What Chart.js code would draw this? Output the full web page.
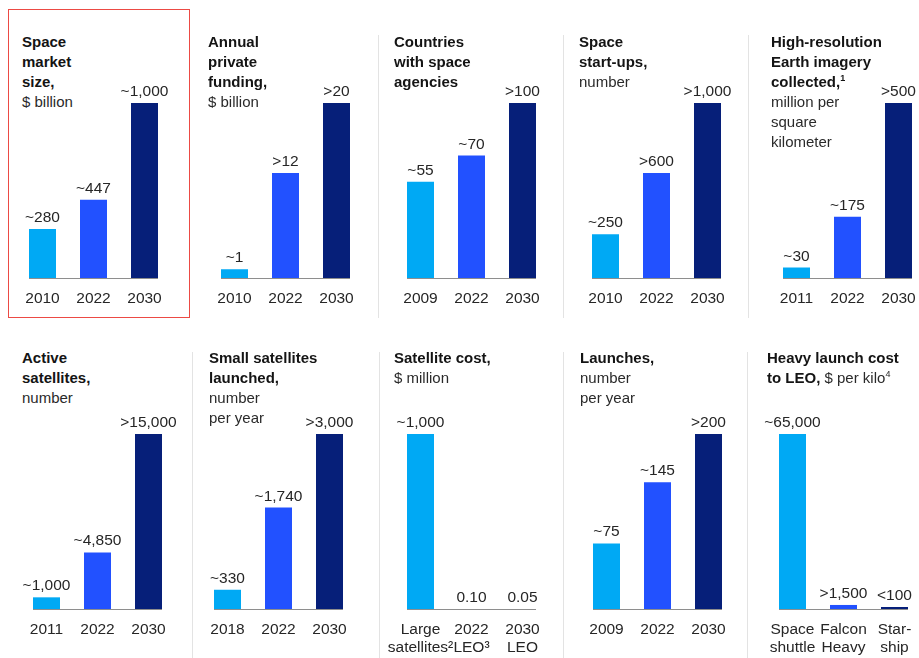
<!DOCTYPE html>
<html lang="en">
<head>
<meta charset="utf-8" />
<title>Space economy at a glance</title>
<script src="https://cdn.jsdelivr.net/npm/chart.js@4.4.1/dist/chart.umd.min.js"></script>
<style>
    html, body { margin: 0; padding: 0; background: #fff; }
    #board { position: relative; width: 919px; height: 658px; overflow: hidden;
        font-family: 'Liberation Sans', Arial, sans-serif; }
    .title { position: absolute; font-size: 15px; line-height: 20px; color: #2a2a2a; white-space: nowrap; }
    .title b { color: #141414; }
    .title sup { font-size: 9px; line-height: 0; vertical-align: 6px; }
    .sep { position: absolute; width: 1px; background: #e3e3e3; }
    canvas { position: absolute; }
    #highlight { position: absolute; left: 8px; top: 9px; width: 180px; height: 307px; border: 1.5px solid #ec4a44; }
</style>
</head>
<body>
<div id="board">
    <div id="highlight"></div>
</div>
<script>
    // values; tags are the printed labels
    const marketYears = ['2010', '2022', '2030'];
    const marketValues = [280, 447, 1000];
    const marketTags = ['~280', '~447', '~1,000'];

    const fundingYears = ['2010', '2022', '2030'];
    const fundingValues = [1, 12, 20];
    const fundingTags = ['~1', '>12', '>20'];

    const agencyYears = ['2009', '2022', '2030'];
    const agencyValues = [55, 70, 100];
    const agencyTags = ['~55', '~70', '>100'];

    const startupYears = ['2010', '2022', '2030'];
    const startupValues = [250, 600, 1000];
    const startupTags = ['~250', '>600', '>1,000'];

    const imageryYears = ['2011', '2022', '2030'];
    const imageryValues = [30, 175, 500];
    const imageryTags = ['~30', '~175', '>500'];

    const activeYears = ['2011', '2022', '2030'];
    const activeValues = [1000, 4850, 15000];
    const activeTags = ['~1,000', '~4,850', '>15,000'];

    const smallSatYears = ['2018', '2022', '2030'];
    const smallSatValues = [330, 1740, 3000];
    const smallSatTags = ['~330', '~1,740', '>3,000'];

    const satCostCats = [['Large', 'satellites²'], ['2022', 'LEO³'], ['2030', 'LEO']];
    const satCostValues = [1000, 0.10, 0.05];
    const satCostTags = ['~1,000', '0.10', '0.05'];

    const launchYears = ['2009', '2022', '2030'];
    const launchValues = [75, 145, 200];
    const launchTags = ['~75', '~145', '>200'];

    const heavyCats = [['Space', 'shuttle'], ['Falcon', 'Heavy'], ['Star-', 'ship']];
    const heavyValues = [65000, 1500, 100];
    const heavyTags = ['~65,000', '>1,500', '<100'];

    const barColors = ['#00a9f4', '#2251ff', '#061f79'];
    const fontFamily = "'Liberation Sans', Arial, sans-serif";

    const rows = [
        { titleTop: 31.5, plotTop: 103, plotBottom: 278, sepTop: 35, sepBottom: 318, seps: [378, 563, 748] },
        { titleTop: 348, plotTop: 434, plotBottom: 609, sepTop: 352, sepBottom: 658, seps: [192, 379, 563, 747] }
    ];

    const panels = [
        { row: 0, tx: 22, bx: 29, cats: marketYears, values: marketValues, tags: marketTags,
          title: '<b>Space<br>market<br>size,</b><br>$ billion' },
        { row: 0, tx: 208, bx: 221, cats: fundingYears, values: fundingValues, tags: fundingTags,
          title: '<b>Annual<br>private<br>funding,</b><br>$ billion' },
        { row: 0, tx: 394, bx: 407, cats: agencyYears, values: agencyValues, tags: agencyTags,
          title: '<b>Countries<br>with space<br>agencies</b>' },
        { row: 0, tx: 579, bx: 592, cats: startupYears, values: startupValues, tags: startupTags,
          title: '<b>Space<br>start-ups,</b><br>number' },
        { row: 0, tx: 771, bx: 783, cats: imageryYears, values: imageryValues, tags: imageryTags,
          title: '<b>High-resolution<br>Earth imagery<br>collected,<sup>1</sup></b><br>million per<br>square<br>kilometer' },
        { row: 1, tx: 22, bx: 33, cats: activeYears, values: activeValues, tags: activeTags,
          title: '<b>Active<br>satellites,</b><br>number' },
        { row: 1, tx: 209, bx: 214, cats: smallSatYears, values: smallSatValues, tags: smallSatTags,
          title: '<b>Small satellites<br>launched,</b><br>number<br>per year' },
        { row: 1, tx: 394, bx: 407, cats: satCostCats, values: satCostValues, tags: satCostTags,
          title: '<b>Satellite cost,</b><br>$ million' },
        { row: 1, tx: 580, bx: 593, cats: launchYears, values: launchValues, tags: launchTags,
          title: '<b>Launches,</b><br>number<br>per year' },
        { row: 1, tx: 767, bx: 779, cats: heavyCats, values: heavyValues, tags: heavyTags,
          title: '<b>Heavy launch cost<br>to LEO,</b> $ per kilo<sup>4</sup>', minBar: 2 }
    ];

    // thin grey base line running under the bars only
    const baseLine = {
        id: 'baseLine',
        beforeDatasetsDraw(chart) {
            const bars = chart.getDatasetMeta(0).data;
            const first = bars[0], last = bars[bars.length - 1];
            const y = chart.scales.y.getPixelForValue(0);
            const ctx = chart.ctx;
            ctx.save();
            ctx.strokeStyle = '#8e8e8e';
            ctx.lineWidth = 1;
            ctx.beginPath();
            ctx.moveTo(first.x - first.width / 2, y + 0.5);
            ctx.lineTo(last.x + last.width / 2, y + 0.5);
            ctx.stroke();
            ctx.restore();
        }
    };

    // value text above each bar
    const barTags = {
        id: 'barTags',
        afterDatasetsDraw(chart, args, opts) {
            const ctx = chart.ctx;
            ctx.save();
            ctx.font = '15.5px ' + fontFamily;
            ctx.fillStyle = '#262626';
            ctx.textAlign = 'center';
            ctx.textBaseline = 'alphabetic';
            chart.getDatasetMeta(0).data.forEach((bar, i) => {
                ctx.fillText(opts.tags[i], bar.x, bar.y - 7);
            });
            ctx.restore();
        }
    };

    const board = document.getElementById('board');

    rows.forEach(r => {
        r.seps.forEach(x => {
            const s = document.createElement('div');
            s.className = 'sep';
            s.style.left = x + 'px';
            s.style.top = r.sepTop + 'px';
            s.style.height = (r.sepBottom - r.sepTop) + 'px';
            board.appendChild(s);
        });
    });

    const padTop = 30, padSide = 40, axisHeight = 50, catWidth = 51, barWidth = 27;

    panels.forEach(p => {
        const r = rows[p.row];
        const t = document.createElement('div');
        t.className = 'title';
        t.style.left = p.tx + 'px';
        t.style.top = r.titleTop + 'px';
        t.innerHTML = p.title;
        board.appendChild(t);

        const plotH = r.plotBottom - r.plotTop;
        const c = document.createElement('canvas');
        c.width = catWidth * 3 + padSide * 2;
        c.height = padTop + plotH + axisHeight;
        c.style.left = (p.bx - (catWidth - barWidth) / 2 - padSide) + 'px';
        c.style.top = (r.plotTop - padTop) + 'px';
        board.appendChild(c);

        new Chart(c.getContext('2d'), {
            type: 'bar',
            data: {
                labels: p.cats,
                datasets: [{
                    data: p.values,
                    backgroundColor: barColors,
                    borderWidth: 0,
                    categoryPercentage: 1,
                    barPercentage: barWidth / catWidth,
                    minBarLength: p.minBar || 0
                }]
            },
            options: {
                responsive: false,
                animation: false,
                events: [],
                layout: { padding: { top: padTop, left: padSide, right: padSide, bottom: 0 } },
                plugins: {
                    legend: { display: false },
                    tooltip: { enabled: false },
                    barTags: { tags: p.tags }
                },
                scales: {
                    x: {
                        grid: { display: false, drawTicks: false },
                        border: { display: false },
                        ticks: {
                            color: '#262626',
                            padding: 12,
                            maxRotation: 0,
                            autoSkip: false,
                            font: { family: fontFamily, size: 15.5, lineHeight: 1.16 }
                        },
                        afterFit: s => { s.height = axisHeight; }
                    },
                    y: {
                        display: false,
                        min: 0,
                        max: Math.max(...p.values)
                    }
                }
            },
            plugins: [baseLine, barTags]
        });
    });
</script>
</body>
</html>
